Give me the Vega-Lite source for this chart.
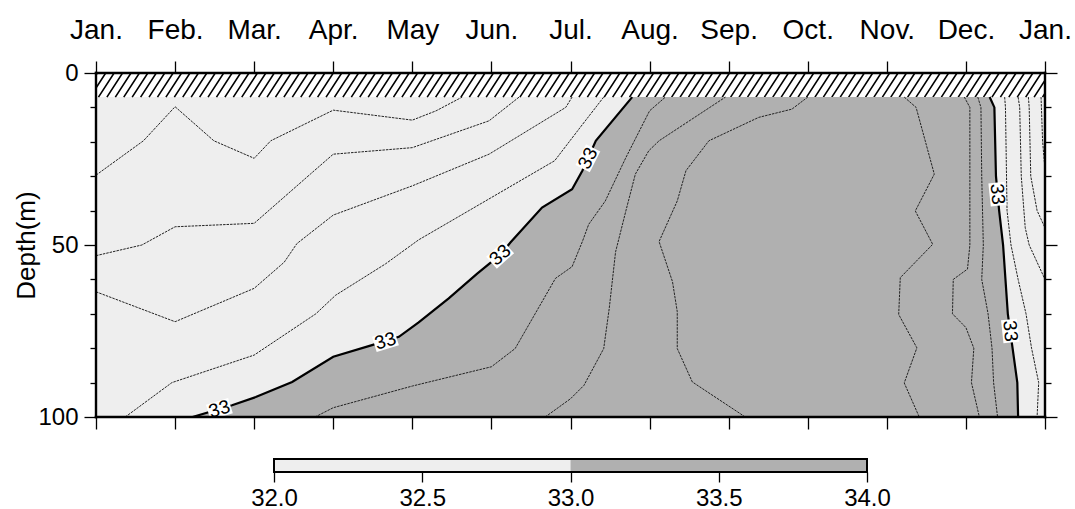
{
  "$schema": "https://vega.github.io/schema/vega-lite/v6.json",
  "background": "white",
  "padding": {"left": 12, "top": 15, "right": 0, "bottom": 0},
  "config": {
    "font": "Liberation Sans",
    "view": {"stroke": "#000", "strokeWidth": 2, "fill": "#eeeeee"},
    "axis": {
      "grid": false,
      "domain": false,
      "labelColor": "#000",
      "tickColor": "#000",
      "titleColor": "#000",
      "tickWidth": 1.3,
      "labelFlush": false,
      "labelOverlap": false
    }
  },
  "datasets": {
    "cap": [{"top": 0, "bottom": 7}],
    "region": [
      {"depth": 7, "west": 6.78, "east": 11.30},
      {"depth": 10, "west": 6.67, "east": 11.36},
      {"depth": 19.7, "west": 6.32, "east": 11.37},
      {"depth": 28.4, "west": 6.15, "east": 11.38},
      {"depth": 30, "west": 6.11, "east": 11.38},
      {"depth": 33.8, "west": 6.02, "east": 11.40},
      {"depth": 39.1, "west": 5.64, "east": 11.42},
      {"depth": 40, "west": 5.60, "east": 11.42},
      {"depth": 49.3, "west": 5.24, "east": 11.47},
      {"depth": 50, "west": 5.21, "east": 11.47},
      {"depth": 52.9, "west": 5.11, "east": 11.48},
      {"depth": 58.3, "west": 4.82, "east": 11.49},
      {"depth": 60, "west": 4.74, "east": 11.50},
      {"depth": 65.5, "west": 4.46, "east": 11.52},
      {"depth": 70, "west": 4.22, "east": 11.53},
      {"depth": 72.5, "west": 4.08, "east": 11.55},
      {"depth": 76.7, "west": 3.83, "east": 11.57},
      {"depth": 79.1, "west": 3.49, "east": 11.58},
      {"depth": 80, "west": 3.36, "east": 11.59},
      {"depth": 82.5, "west": 3.00, "east": 11.60},
      {"depth": 89.8, "west": 2.48, "east": 11.65},
      {"depth": 90, "west": 2.46, "east": 11.65},
      {"depth": 94.2, "west": 2.02, "east": 11.65},
      {"depth": 96.6, "west": 1.72, "east": 11.66},
      {"depth": 100, "west": 1.22, "east": 11.66}
    ],
    "contours": [
      {"line": "A", "level": 32.6, "month": 0, "depth": 29.7},
      {"line": "A", "level": 32.6, "month": 0.6, "depth": 19.7},
      {"line": "A", "level": 32.6, "month": 1.0, "depth": 9.8},
      {"line": "A", "level": 32.6, "month": 1.49, "depth": 19.7},
      {"line": "A", "level": 32.6, "month": 2.0, "depth": 24.8},
      {"line": "A", "level": 32.6, "month": 2.21, "depth": 19.7},
      {"line": "A", "level": 32.6, "month": 3.0, "depth": 10.8},
      {"line": "A", "level": 32.6, "month": 4.0, "depth": 13.7},
      {"line": "A", "level": 32.6, "month": 4.3, "depth": 11.0},
      {"line": "A", "level": 32.6, "month": 4.63, "depth": 7},

      {"line": "B", "level": 32.7, "month": 0, "depth": 53.1},
      {"line": "B", "level": 32.7, "month": 0.58, "depth": 50},
      {"line": "B", "level": 32.7, "month": 1.0, "depth": 44.7},
      {"line": "B", "level": 32.7, "month": 2.0, "depth": 43.7},
      {"line": "B", "level": 32.7, "month": 2.71, "depth": 29.4},
      {"line": "B", "level": 32.7, "month": 3.0, "depth": 23.6},
      {"line": "B", "level": 32.7, "month": 4.0, "depth": 21.7},
      {"line": "B", "level": 32.7, "month": 4.97, "depth": 13.9},
      {"line": "B", "level": 32.7, "month": 5.35, "depth": 7},

      {"line": "C", "level": 32.8, "month": 0, "depth": 63.6},
      {"line": "C", "level": 32.8, "month": 1.0, "depth": 72.3},
      {"line": "C", "level": 32.8, "month": 2.0, "depth": 62.6},
      {"line": "C", "level": 32.8, "month": 2.38, "depth": 55},
      {"line": "C", "level": 32.8, "month": 2.54, "depth": 49.6},
      {"line": "C", "level": 32.8, "month": 3.0, "depth": 41.3},
      {"line": "C", "level": 32.8, "month": 4.0, "depth": 32.8},
      {"line": "C", "level": 32.8, "month": 4.97, "depth": 23.6},
      {"line": "C", "level": 32.8, "month": 5.94, "depth": 10},
      {"line": "C", "level": 32.8, "month": 6.02, "depth": 7},

      {"line": "D", "level": 32.9, "month": 0.37, "depth": 100},
      {"line": "D", "level": 32.9, "month": 0.96, "depth": 90},
      {"line": "D", "level": 32.9, "month": 2.0, "depth": 82},
      {"line": "D", "level": 32.9, "month": 2.78, "depth": 70},
      {"line": "D", "level": 32.9, "month": 3.03, "depth": 64.6},
      {"line": "D", "level": 32.9, "month": 3.66, "depth": 55.5},
      {"line": "D", "level": 32.9, "month": 4.08, "depth": 48.5},
      {"line": "D", "level": 32.9, "month": 5.0, "depth": 36.2},
      {"line": "D", "level": 32.9, "month": 5.8, "depth": 25.5},
      {"line": "D", "level": 32.9, "month": 6.15, "depth": 15},
      {"line": "D", "level": 32.9, "month": 6.42, "depth": 7},

      {"line": "W33", "level": 33, "month": 1.22, "depth": 100},
      {"line": "W33", "level": 33, "month": 1.72, "depth": 96.6},
      {"line": "W33", "level": 33, "month": 2.02, "depth": 94.2},
      {"line": "W33", "level": 33, "month": 2.48, "depth": 89.8},
      {"line": "W33", "level": 33, "month": 3.0, "depth": 82.5},
      {"line": "W33", "level": 33, "month": 3.49, "depth": 79.1},
      {"line": "W33", "level": 33, "month": 3.83, "depth": 76.7},
      {"line": "W33", "level": 33, "month": 4.08, "depth": 72.5},
      {"line": "W33", "level": 33, "month": 4.46, "depth": 65.5},
      {"line": "W33", "level": 33, "month": 4.82, "depth": 58.3},
      {"line": "W33", "level": 33, "month": 5.11, "depth": 52.9},
      {"line": "W33", "level": 33, "month": 5.24, "depth": 49.3},
      {"line": "W33", "level": 33, "month": 5.64, "depth": 39.1},
      {"line": "W33", "level": 33, "month": 6.02, "depth": 33.8},
      {"line": "W33", "level": 33, "month": 6.15, "depth": 28.4},
      {"line": "W33", "level": 33, "month": 6.32, "depth": 19.7},
      {"line": "W33", "level": 33, "month": 6.78, "depth": 7},

      {"line": "E", "level": 33.1, "month": 2.77, "depth": 100},
      {"line": "E", "level": 33.1, "month": 3.0, "depth": 97.3},
      {"line": "E", "level": 33.1, "month": 4.0, "depth": 91.0},
      {"line": "E", "level": 33.1, "month": 5.0, "depth": 85.4},
      {"line": "E", "level": 33.1, "month": 5.3, "depth": 80.1},
      {"line": "E", "level": 33.1, "month": 5.81, "depth": 59.7},
      {"line": "E", "level": 33.1, "month": 6.02, "depth": 56.3},
      {"line": "E", "level": 33.1, "month": 6.15, "depth": 49},
      {"line": "E", "level": 33.1, "month": 6.23, "depth": 44},
      {"line": "E", "level": 33.1, "month": 6.44, "depth": 37.2},
      {"line": "E", "level": 33.1, "month": 6.7, "depth": 24.6},
      {"line": "E", "level": 33.1, "month": 7.0, "depth": 11},
      {"line": "E", "level": 33.1, "month": 7.2, "depth": 7},

      {"line": "F", "level": 33.2, "month": 5.68, "depth": 100},
      {"line": "F", "level": 33.2, "month": 6.0, "depth": 94.7},
      {"line": "F", "level": 33.2, "month": 6.17, "depth": 90.8},
      {"line": "F", "level": 33.2, "month": 6.42, "depth": 80.1},
      {"line": "F", "level": 33.2, "month": 6.49, "depth": 68.4},
      {"line": "F", "level": 33.2, "month": 6.57, "depth": 52},
      {"line": "F", "level": 33.2, "month": 6.7, "depth": 40.1},
      {"line": "F", "level": 33.2, "month": 6.82, "depth": 29.4},
      {"line": "F", "level": 33.2, "month": 6.99, "depth": 22.6},
      {"line": "F", "level": 33.2, "month": 7.12, "depth": 19.7},
      {"line": "F", "level": 33.2, "month": 7.96, "depth": 7},

      {"line": "G", "level": 33.3, "month": 8.21, "depth": 100},
      {"line": "G", "level": 33.3, "month": 7.54, "depth": 89.8},
      {"line": "G", "level": 33.3, "month": 7.35, "depth": 80.1},
      {"line": "G", "level": 33.3, "month": 7.35, "depth": 69.4},
      {"line": "G", "level": 33.3, "month": 7.29, "depth": 60.7},
      {"line": "G", "level": 33.3, "month": 7.12, "depth": 49},
      {"line": "G", "level": 33.3, "month": 7.35, "depth": 37.2},
      {"line": "G", "level": 33.3, "month": 7.46, "depth": 28.4},
      {"line": "G", "level": 33.3, "month": 7.75, "depth": 19.7},
      {"line": "G", "level": 33.3, "month": 8.38, "depth": 12.9},
      {"line": "G", "level": 33.3, "month": 8.8, "depth": 10.5},
      {"line": "G", "level": 33.3, "month": 9.0, "depth": 7},

      {"line": "H", "level": 33.3, "month": 10.22, "depth": 7},
      {"line": "H", "level": 33.3, "month": 10.37, "depth": 10},
      {"line": "H", "level": 33.3, "month": 10.6, "depth": 29.4},
      {"line": "H", "level": 33.3, "month": 10.36, "depth": 40.1},
      {"line": "H", "level": 33.3, "month": 10.58, "depth": 49.8},
      {"line": "H", "level": 33.3, "month": 10.17, "depth": 59.5},
      {"line": "H", "level": 33.3, "month": 10.15, "depth": 70.2},
      {"line": "H", "level": 33.3, "month": 10.38, "depth": 79.9},
      {"line": "H", "level": 33.3, "month": 10.22, "depth": 90.1},
      {"line": "H", "level": 33.3, "month": 10.41, "depth": 100},

      {"line": "I", "level": 33.2, "month": 10.98, "depth": 7},
      {"line": "I", "level": 33.2, "month": 11.05, "depth": 10},
      {"line": "I", "level": 33.2, "month": 11.05, "depth": 50},
      {"line": "I", "level": 33.2, "month": 11.02, "depth": 57},
      {"line": "I", "level": 33.2, "month": 10.84, "depth": 60},
      {"line": "I", "level": 33.2, "month": 10.83, "depth": 70},
      {"line": "I", "level": 33.2, "month": 11.0, "depth": 74},
      {"line": "I", "level": 33.2, "month": 11.1, "depth": 80},
      {"line": "I", "level": 33.2, "month": 11.07, "depth": 90},
      {"line": "I", "level": 33.2, "month": 11.17, "depth": 100},

      {"line": "J", "level": 33.1, "month": 11.15, "depth": 7},
      {"line": "J", "level": 33.1, "month": 11.19, "depth": 10},
      {"line": "J", "level": 33.1, "month": 11.2, "depth": 30},
      {"line": "J", "level": 33.1, "month": 11.22, "depth": 50},
      {"line": "J", "level": 33.1, "month": 11.2, "depth": 60},
      {"line": "J", "level": 33.1, "month": 11.28, "depth": 70},
      {"line": "J", "level": 33.1, "month": 11.33, "depth": 80},
      {"line": "J", "level": 33.1, "month": 11.35, "depth": 90},
      {"line": "J", "level": 33.1, "month": 11.4, "depth": 100},

      {"line": "E33", "level": 33, "month": 11.3, "depth": 7},
      {"line": "E33", "level": 33, "month": 11.36, "depth": 10},
      {"line": "E33", "level": 33, "month": 11.38, "depth": 30},
      {"line": "E33", "level": 33, "month": 11.42, "depth": 40},
      {"line": "E33", "level": 33, "month": 11.47, "depth": 50},
      {"line": "E33", "level": 33, "month": 11.5, "depth": 60},
      {"line": "E33", "level": 33, "month": 11.53, "depth": 70},
      {"line": "E33", "level": 33, "month": 11.59, "depth": 80},
      {"line": "E33", "level": 33, "month": 11.65, "depth": 90},
      {"line": "E33", "level": 33, "month": 11.66, "depth": 100},

      {"line": "K", "level": 32.9, "month": 11.49, "depth": 7},
      {"line": "K", "level": 32.9, "month": 11.5, "depth": 10},
      {"line": "K", "level": 32.9, "month": 11.52, "depth": 40},
      {"line": "K", "level": 32.9, "month": 11.57, "depth": 50},
      {"line": "K", "level": 32.9, "month": 11.66, "depth": 60},
      {"line": "K", "level": 32.9, "month": 11.76, "depth": 70},
      {"line": "K", "level": 32.9, "month": 11.83, "depth": 80},
      {"line": "K", "level": 32.9, "month": 11.92, "depth": 90},
      {"line": "K", "level": 32.9, "month": 11.9, "depth": 100},

      {"line": "L", "level": 32.8, "month": 11.66, "depth": 7},
      {"line": "L", "level": 32.8, "month": 11.68, "depth": 10},
      {"line": "L", "level": 32.8, "month": 11.7, "depth": 30},
      {"line": "L", "level": 32.8, "month": 11.75, "depth": 45},
      {"line": "L", "level": 32.8, "month": 11.8, "depth": 50},
      {"line": "L", "level": 32.8, "month": 11.9, "depth": 55},
      {"line": "L", "level": 32.8, "month": 12, "depth": 60},

      {"line": "M", "level": 32.7, "month": 11.79, "depth": 7},
      {"line": "M", "level": 32.7, "month": 11.8, "depth": 10},
      {"line": "M", "level": 32.7, "month": 11.82, "depth": 30},
      {"line": "M", "level": 32.7, "month": 11.9, "depth": 40},
      {"line": "M", "level": 32.7, "month": 12, "depth": 45},

      {"line": "N", "level": 32.6, "month": 11.95, "depth": 7},
      {"line": "N", "level": 32.6, "month": 11.97, "depth": 20},
      {"line": "N", "level": 32.6, "month": 12, "depth": 28}
    ],
    "labels": [
      {"label": "33", "month": 1.56, "depth": 97.7},
      {"label": "33", "month": 3.66, "depth": 77.9},
      {"label": "33", "month": 5.11, "depth": 52.9},
      {"label": "33", "month": 6.22, "depth": 24.8},
      {"label": "33", "month": 11.4, "depth": 35.2},
      {"label": "33", "month": 11.56, "depth": 75}
    ],
    "scalebar": [
      {"lo": 32, "hi": 33, "band": "below 33"},
      {"lo": 33, "hi": 34, "band": "above 33"}
    ]
  },
  "spacing": 42,
  "bounds": "flush",
  "center": true,
  "vconcat": [
    {
      "width": 949,
      "height": 344,
      "resolve": {"axis": {"x": "independent", "y": "independent"}},
      "layer": [
        {
          "data": {"name": "cap"},
          "mark": {"type": "rect", "fill": "#ffffff"},
          "encoding": {
            "y": {"field": "top", "type": "quantitative", "scale": {"domain": [0, 100], "reverse": true, "nice": false, "zero": false}, "axis": null},
            "y2": {"field": "bottom"}
          }
        },
        {
          "data": {"name": "cap"},
          "mark": {
            "type": "point",
            "shape": "M-42 1l1.3 -2m-0.6 2l1.3 -2m-0.6 2l1.3 -2m-0.6 2l1.3 -2m-0.6 2l1.3 -2m-0.6 2l1.3 -2m-0.6 2l1.3 -2m-0.6 2l1.3 -2m-0.6 2l1.3 -2m-0.6 2l1.3 -2m-0.6 2l1.3 -2m-0.6 2l1.3 -2m-0.6 2l1.3 -2m-0.6 2l1.3 -2m-0.6 2l1.3 -2m-0.6 2l1.3 -2m-0.6 2l1.3 -2m-0.6 2l1.3 -2m-0.6 2l1.3 -2m-0.6 2l1.3 -2m-0.6 2l1.3 -2m-0.6 2l1.3 -2m-0.6 2l1.3 -2m-0.6 2l1.3 -2m-0.6 2l1.3 -2m-0.6 2l1.3 -2m-0.6 2l1.3 -2m-0.6 2l1.3 -2m-0.6 2l1.3 -2m-0.6 2l1.3 -2m-0.6 2l1.3 -2m-0.6 2l1.3 -2m-0.6 2l1.3 -2m-0.6 2l1.3 -2m-0.6 2l1.3 -2m-0.6 2l1.3 -2m-0.6 2l1.3 -2m-0.6 2l1.3 -2m-0.6 2l1.3 -2m-0.6 2l1.3 -2m-0.6 2l1.3 -2m-0.6 2l1.3 -2m-0.6 2l1.3 -2m-0.6 2l1.3 -2m-0.6 2l1.3 -2m-0.6 2l1.3 -2m-0.6 2l1.3 -2m-0.6 2l1.3 -2m-0.6 2l1.3 -2m-0.6 2l1.3 -2m-0.6 2l1.3 -2m-0.6 2l1.3 -2m-0.6 2l1.3 -2m-0.6 2l1.3 -2m-0.6 2l1.3 -2m-0.6 2l1.3 -2m-0.6 2l1.3 -2m-0.6 2l1.3 -2m-0.6 2l1.3 -2m-0.6 2l1.3 -2m-0.6 2l1.3 -2m-0.6 2l1.3 -2m-0.6 2l1.3 -2m-0.6 2l1.3 -2m-0.6 2l1.3 -2m-0.6 2l1.3 -2m-0.6 2l1.3 -2m-0.6 2l1.3 -2m-0.6 2l1.3 -2m-0.6 2l1.3 -2m-0.6 2l1.3 -2m-0.6 2l1.3 -2m-0.6 2l1.3 -2m-0.6 2l1.3 -2m-0.6 2l1.3 -2m-0.6 2l1.3 -2m-0.6 2l1.3 -2m-0.6 2l1.3 -2m-0.6 2l1.3 -2m-0.6 2l1.3 -2m-0.6 2l1.3 -2m-0.6 2l1.3 -2m-0.6 2l1.3 -2m-0.6 2l1.3 -2m-0.6 2l1.3 -2m-0.6 2l1.3 -2m-0.6 2l1.3 -2m-0.6 2l1.3 -2m-0.6 2l1.3 -2m-0.6 2l1.3 -2m-0.6 2l1.3 -2m-0.6 2l1.3 -2m-0.6 2l1.3 -2m-0.6 2l1.3 -2m-0.6 2l1.3 -2m-0.6 2l1.3 -2m-0.6 2l1.3 -2m-0.6 2l1.3 -2m-0.6 2l1.3 -2m-0.6 2l1.3 -2m-0.6 2l1.3 -2m-0.6 2l1.3 -2m-0.6 2l1.3 -2m-0.6 2l1.3 -2m-0.6 2l1.3 -2m-0.6 2l1.3 -2m-0.6 2l1.3 -2m-0.6 2l1.3 -2m-0.6 2l1.3 -2m-0.6 2l1.3 -2m-0.6 2l1.3 -2m-0.6 2l1.3 -2m-0.6 2l1.3 -2m-0.6 2l1.3 -2m-0.6 2l1.3 -2m-0.6 2l1.3 -2m-0.6 2l1.3 -2m-0.6 2l1.3 -2m-0.6 2l1.3 -2m-0.6 2l1.3 -2m-0.6 2l1.3 -2m-0.6 2l1.3 -2m-0.6 2l1.3 -2m-0.6 2l1.3 -2m-0.6 2l1.3 -2m-0.6 2l1.3 -2",
            "size": 580,
            "filled": false,
            "stroke": "#000",
            "strokeWidth": 1.6,
            "opacity": 1,
            "clip": true
          },
          "encoding": {
            "x": {"datum": 6, "type": "quantitative", "scale": {"domain": [0, 12], "nice": false, "zero": false}, "axis": null},
            "y": {"datum": 3.5, "type": "quantitative", "scale": {"domain": [0, 100], "reverse": true, "nice": false, "zero": false}, "axis": null}
          }
        },
        {
          "data": {"name": "region"},
          "mark": {"type": "area", "orient": "horizontal", "fill": "#b0b0b0", "clip": true},
          "encoding": {
            "y": {
              "field": "depth", "type": "quantitative",
              "scale": {"domain": [0, 100], "reverse": true, "nice": false, "zero": false},
              "axis": {
                "orient": "left",
                "values": [0, 10, 20, 30, 40, 50, 60, 70, 80, 90, 100],
                "labelExpr": "datum.value % 50 === 0 ? datum.label : ''",
                "labelFontSize": 24,
                "labelPadding": 6,
                "tickSize": {"condition": {"test": "datum.value % 50 === 0", "value": 12}, "value": 6},
                "title": "Depth(m)",
                "titleFontSize": 26,
                "titleFontWeight": "normal",
                "titlePadding": -2
              }
            },
            "x": {
              "field": "west", "type": "quantitative",
              "scale": {"domain": [0, 12], "nice": false, "zero": false},
              "axis": {
                "orient": "top",
                "values": [0, 1, 2, 3, 4, 5, 6, 7, 8, 9, 10, 11, 12],
                "labelExpr": "['Jan.','Feb.','Mar.','Apr.','May','Jun.','Jul.','Aug.','Sep.','Oct.','Nov.','Dec.','Jan.'][datum.value]",
                "labelFontSize": 28,
                "labelBaseline": "alphabetic",
                "labelPadding": 23,
                "tickSize": 12,
                "title": null
              }
            },
            "x2": {"field": "east"}
          }
        },
        {
          "data": {"name": "contours"},
          "transform": [{"filter": "datum.level != 33"}],
          "mark": {"type": "line", "stroke": "#222222", "strokeWidth": 1, "strokeDash": [2.5, 1], "clip": true},
          "encoding": {
            "x": {
              "field": "month", "type": "quantitative",
              "scale": {"domain": [0, 12], "nice": false, "zero": false},
              "axis": {"orient": "bottom", "values": [0, 1, 2, 3, 4, 5, 6, 7, 8, 9, 10, 11, 12], "labels": false, "tickSize": 12, "title": null}
            },
            "y": {
              "field": "depth", "type": "quantitative",
              "scale": {"domain": [0, 100], "reverse": true, "nice": false, "zero": false},
              "axis": {
                "orient": "right",
                "values": [0, 10, 20, 30, 40, 50, 60, 70, 80, 90, 100],
                "labels": false,
                "tickSize": {"condition": {"test": "datum.value % 50 === 0", "value": 12}, "value": 6},
                "title": null
              }
            },
            "detail": {"field": "line"},
            "order": {"value": null}
          }
        },
        {
          "data": {"name": "contours"},
          "transform": [{"filter": "datum.level == 33"}],
          "mark": {"type": "line", "stroke": "#000000", "strokeWidth": 2.2, "clip": true},
          "encoding": {
            "x": {"field": "month", "type": "quantitative", "scale": {"domain": [0, 12], "nice": false, "zero": false}, "axis": null},
            "y": {"field": "depth", "type": "quantitative", "scale": {"domain": [0, 100], "reverse": true, "nice": false, "zero": false}, "axis": null},
            "detail": {"field": "line"},
            "order": {"value": null}
          }
        },
        {
          "data": {"name": "labels"},
          "transform": [{"filter": "datum.month < 4"}],
          "encoding": {
            "x": {"field": "month", "type": "quantitative", "scale": {"domain": [0, 12], "nice": false, "zero": false}, "axis": null},
            "y": {"field": "depth", "type": "quantitative", "scale": {"domain": [0, 100], "reverse": true, "nice": false, "zero": false}, "axis": null}
          },
          "layer": [
            {"mark": {"type": "point", "shape": "M-1.45 -1L1.45 -1L1.45 1L-1.45 1Z", "size": 256, "filled": true, "fill": "#ffffff", "strokeWidth": 0, "opacity": 1, "angle": -17}},
            {"mark": {"type": "text", "angle": -17, "fontSize": 19, "align": "center", "baseline": "middle", "color": "#000"}, "encoding": {"text": {"field": "label"}}}
          ]
        },
        {
          "data": {"name": "labels"},
          "transform": [{"filter": "datum.month > 4 && datum.month < 5.6"}],
          "encoding": {
            "x": {"field": "month", "type": "quantitative", "scale": {"domain": [0, 12], "nice": false, "zero": false}, "axis": null},
            "y": {"field": "depth", "type": "quantitative", "scale": {"domain": [0, 100], "reverse": true, "nice": false, "zero": false}, "axis": null}
          },
          "layer": [
            {"mark": {"type": "point", "shape": "M-1.45 -1L1.45 -1L1.45 1L-1.45 1Z", "size": 256, "filled": true, "fill": "#ffffff", "strokeWidth": 0, "opacity": 1, "angle": -42}},
            {"mark": {"type": "text", "angle": -42, "fontSize": 19, "align": "center", "baseline": "middle", "color": "#000"}, "encoding": {"text": {"field": "label"}}}
          ]
        },
        {
          "data": {"name": "labels"},
          "transform": [{"filter": "datum.month > 5.6 && datum.month < 7"}],
          "encoding": {
            "x": {"field": "month", "type": "quantitative", "scale": {"domain": [0, 12], "nice": false, "zero": false}, "axis": null},
            "y": {"field": "depth", "type": "quantitative", "scale": {"domain": [0, 100], "reverse": true, "nice": false, "zero": false}, "axis": null}
          },
          "layer": [
            {"mark": {"type": "point", "shape": "M-1.45 -1L1.45 -1L1.45 1L-1.45 1Z", "size": 256, "filled": true, "fill": "#ffffff", "strokeWidth": 0, "opacity": 1, "angle": -63}},
            {"mark": {"type": "text", "angle": -63, "fontSize": 19, "align": "center", "baseline": "middle", "color": "#000"}, "encoding": {"text": {"field": "label"}}}
          ]
        },
        {
          "data": {"name": "labels"},
          "transform": [{"filter": "datum.month > 11"}],
          "encoding": {
            "x": {"field": "month", "type": "quantitative", "scale": {"domain": [0, 12], "nice": false, "zero": false}, "axis": null},
            "y": {"field": "depth", "type": "quantitative", "scale": {"domain": [0, 100], "reverse": true, "nice": false, "zero": false}, "axis": null}
          },
          "layer": [
            {"mark": {"type": "point", "shape": "M-1.45 -1L1.45 -1L1.45 1L-1.45 1Z", "size": 256, "filled": true, "fill": "#ffffff", "strokeWidth": 0, "opacity": 1, "angle": 84}},
            {"mark": {"type": "text", "angle": 84, "fontSize": 19, "align": "center", "baseline": "middle", "color": "#000"}, "encoding": {"text": {"field": "label"}}}
          ]
        },
        {
          "data": {"name": "cap"},
          "mark": {"type": "rule", "color": "#000", "strokeWidth": 2.6, "strokeCap": "square"},
          "encoding": {
            "y": {"datum": 100, "type": "quantitative", "scale": {"domain": [0, 100], "reverse": true, "nice": false, "zero": false}, "axis": null}
          }
        },
        {
          "data": {"name": "cap"},
          "mark": {"type": "rule", "color": "#000", "strokeWidth": 2.4, "strokeCap": "square"},
          "encoding": {
            "y": {"datum": 0, "type": "quantitative", "scale": {"domain": [0, 100], "reverse": true, "nice": false, "zero": false}, "axis": null}
          }
        },
        {
          "data": {"name": "cap"},
          "mark": {"type": "rule", "color": "#000", "strokeWidth": 2.4, "strokeCap": "square"},
          "encoding": {
            "x": {"datum": 0, "type": "quantitative", "scale": {"domain": [0, 12], "nice": false, "zero": false}, "axis": null}
          }
        },
        {
          "data": {"name": "cap"},
          "mark": {"type": "rule", "color": "#000", "strokeWidth": 2.4, "strokeCap": "square"},
          "encoding": {
            "x": {"datum": 12, "type": "quantitative", "scale": {"domain": [0, 12], "nice": false, "zero": false}, "axis": null}
          }
        }
      ]
    },
    {
      "width": 593,
      "height": 13,
      "data": {"name": "scalebar"},
      "layer": [
        {
          "mark": {"type": "rect"},
          "encoding": {
            "x": {
              "field": "lo", "type": "quantitative",
              "scale": {"domain": [32, 34], "nice": false, "zero": false},
              "axis": {
                "orient": "bottom",
                "values": [32, 32.5, 33, 33.5, 34],
                "format": ".1f",
                "tickSize": 10,
                "labelFontSize": 24,
                "labelBaseline": "alphabetic",
                "labelPadding": 23,
                "title": null
              }
            },
            "x2": {"field": "hi"},
            "color": {
              "field": "band", "type": "nominal",
              "scale": {"domain": ["below 33", "above 33"], "range": ["#eeeeee", "#b0b0b0"]},
              "legend": null
            }
          }
        },
        {
          "transform": [{"filter": "datum.lo == 32"}],
          "mark": {"type": "rect", "fillOpacity": 0, "stroke": "#000", "strokeWidth": 2, "clip": false}
        }
      ]
    }
  ]
}
